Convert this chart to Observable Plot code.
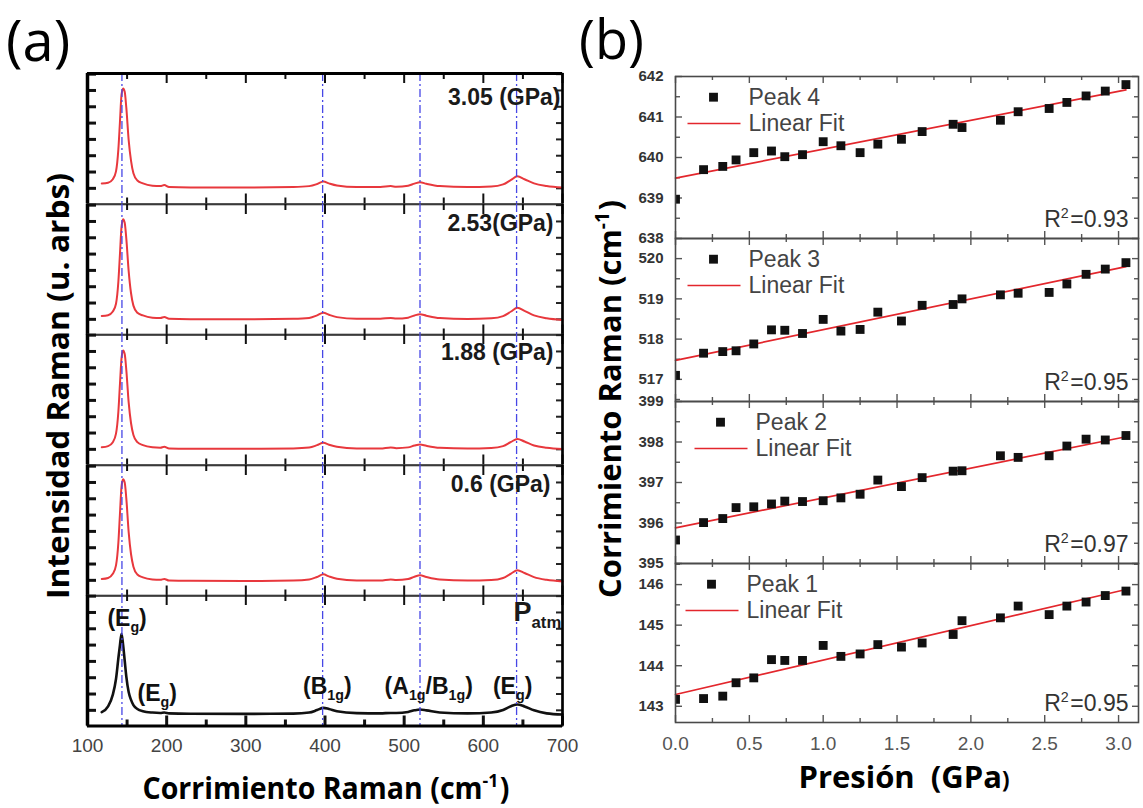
<!DOCTYPE html>
<html><head><meta charset="utf-8">
<script src="https://cdn.jsdelivr.net/npm/d3@7"></script>
<script src="https://cdn.jsdelivr.net/npm/@observablehq/plot@0.6"></script>
<style>
html,body{margin:0;padding:0;background:#fff;}
#root{position:relative;width:1143px;height:808px;overflow:hidden;background:#fff;}
</style></head>
<body><div id="root"></div>
<script>
// ---------- DATA: panel (a) Raman spectra (normalized intensity per sub-panel) ----------
const ramanShift = [118,126,132,136,139,141,143,145,147,149,152,155,158,163,170,182,192,197,203,230,300,360,380,390,398,405,415,440,470,483,490,505,513,520,528,545,580,610,625,635,643,652,664,680,700];
const spectrum305 = [.157,.163,.19,.25,.42,.63,.84,.885,.86,.74,.49,.33,.235,.18,.158,.14,.137,.145,.13,.127,.126,.13,.137,.153,.172,.158,.142,.13,.13,.137,.132,.14,.156,.167,.155,.137,.13,.134,.15,.185,.212,.19,.158,.138,.126];
const spectrum253 = [.146,.152,.18,.24,.41,.62,.83,.887,.86,.74,.49,.32,.225,.17,.15,.133,.13,.138,.124,.121,.12,.124,.131,.15,.171,.155,.137,.124,.124,.131,.126,.133,.15,.159,.148,.13,.123,.128,.145,.18,.209,.185,.15,.128,.115];
const spectrum188 = [.136,.145,.175,.24,.41,.62,.82,.877,.85,.73,.48,.32,.23,.175,.152,.136,.133,.14,.127,.125,.124,.127,.134,.152,.17,.155,.139,.127,.127,.135,.129,.135,.149,.157,.147,.132,.126,.13,.145,.177,.2,.18,.15,.132,.122];
const spectrum060 = [.13,.138,.17,.235,.41,.63,.84,.894,.87,.75,.49,.32,.225,.165,.143,.127,.124,.131,.118,.116,.115,.118,.126,.146,.166,.15,.132,.119,.119,.127,.122,.13,.148,.159,.146,.126,.118,.122,.138,.172,.197,.176,.145,.124,.112];
const spectrumAtm = [.106,.15,.24,.36,.52,.62,.707,.62,.50,.38,.26,.2,.16,.13,.113,.103,.1,.104,.097,.094,.093,.095,.103,.122,.139,.13,.113,.099,.097,.1,.1,.108,.12,.126,.12,.104,.097,.104,.123,.152,.165,.15,.12,.097,.088];
const spectraA = [spectrum305, spectrum253, spectrum188, spectrum060, spectrumAtm];
const pressureLabelsA = ["3.05 (GPa)", "2.53(GPa)", "1.88 (GPa)", "0.6 (GPa)", "P_{atm}"];
const peakLinePositions = [143.5, 397, 520, 642];
const peakAnnotations = [
  {x: 150, y: 0.824, label: "(E_{g})"},
  {x: 188, y: 0.249, label: "(E_{g})"},
  {x: 403, y: 0.303, label: "(B_{1g})"},
  {x: 531, y: 0.303, label: "(A_{1g}/B_{1g})"},
  {x: 637, y: 0.303, label: "(E_{g})"}
];
const xTicksA = [100,200,300,400,500,600,700];
const xMinorA = [150,250,350,450,550,650];
const yTicksA = [0.12,0.245,0.37,0.495,0.62,0.745,0.87,0.995];

// ---------- DATA: panel (b) peak positions vs pressure ----------
const pressure = [0,0.19,0.32,0.41,0.53,0.65,0.74,0.86,1.0,1.12,1.25,1.37,1.53,1.67,1.88,1.94,2.2,2.32,2.53,2.65,2.78,2.91,3.05];
const peak4 = [638.97,639.70,639.78,639.94,640.12,640.16,640.02,640.07,640.39,640.29,640.12,640.33,640.45,640.64,640.82,640.74,640.92,641.13,641.21,641.36,641.52,641.64,641.80];
const peak3 = [517.10,517.65,517.69,517.71,517.88,518.23,518.22,518.14,518.49,518.20,518.24,518.67,518.45,518.84,518.86,519.00,519.10,519.14,519.16,519.37,519.61,519.74,519.90];
const peak2 = [395.58,396.01,396.11,396.38,396.40,396.47,396.54,396.53,396.55,396.62,396.71,397.06,396.90,397.12,397.28,397.29,397.66,397.62,397.66,397.90,398.07,398.05,398.16];
const peak1 = [143.17,143.19,143.25,143.58,143.70,144.15,144.13,144.13,144.50,144.23,144.29,144.52,144.46,144.56,144.77,145.11,145.18,145.47,145.26,145.47,145.57,145.73,145.84];
const peaksB = [peak4, peak3, peak2, peak1];
const fitStart = [639.49, 517.47, 395.88, 143.29];
const fitEnd = [641.67, 519.80, 398.13, 145.88];
const peakNamesB = ["Peak 4", "Peak 3", "Peak 2", "Peak 1"];
const r2LabelsB = ["R^{2}=0.93", "R^{2}=0.95", "R^{2}=0.97", "R^{2}=0.95"];
const yDomainsB = [[638, 642], [516.45, 520.5], [395, 399], [142.6, 146.52]];
const yMajorB = [[638,639,640,641,642],[517,518,519,520],[395,396,397,398,399],[143,144,145,146]];
const yMinorB = [[638.5,639.5,640.5,641.5],[516.5,517.5,518.5,519.5],[395.5,396.5,397.5,398.5],[143.5,144.5,145.5,146.5]];
const xTicksB = [0,0.5,1,1.5,2,2.5,3];
const xMinorB = [0.25,0.75,1.25,1.75,2.25,2.75];

// ---------- LAYOUT / STYLE ----------
const RED = "#e8383d", FIT_RED = "#e3262c", BLUE = "#4747e6";
const FONT = "'Liberation Sans', Arial, sans-serif";
const root = document.getElementById("root");
const leftA = 87, widthA = 475, topsA = [73, 203.5, 334, 464.5, 595], heightA = 130.5;
const labelLayoutA = [
  {dx: -2, dy: 23.7, anchor: "end", size: 23},
  {dx: -9, dy: 19.5, anchor: "end", size: 23},
  {dx: -9, dy: 18, anchor: "end", size: 23},
  {dx: -12, dy: 18.8, anchor: "end", size: 23},
  {dx: -49, dy: 17, anchor: "start", size: 27}
];
const leftB = 675, widthB = 463, topsB = [76, 238, 401, 563], bottomsB = [238, 401, 563, 722];
const legendShiftB = [0, 0, 7, -2];
const lineSymbol = {draw(ctx) { ctx.moveTo(-26.5, 0); ctx.lineTo(26.5, 0); }};

function place(svg, left, top) {
  svg.style.position = "absolute";
  svg.style.left = left + "px";
  svg.style.top = top + "px";
  root.appendChild(svg);
}

function panelA(i) {
  const W = widthA, H = heightA, last = i === 4;
  const rows = ramanShift.map((x, j) => ({x, v: spectraA[i][j]}));
  const tw = last ? 3 : 2;
  const L = labelLayoutA[i];
  const marks = [
    Plot.frame({stroke: "#3a3a3a", strokeWidth: 1.6}),
    Plot.ruleX(xTicksA, {stroke: "#111", strokeWidth: 2, insetBottom: H - 10}),
    Plot.ruleX(xMinorA, {stroke: "#111", strokeWidth: 2, insetBottom: H - 6}),
    Plot.ruleX(xTicksA, {stroke: "#111", strokeWidth: tw, insetTop: H - 10}),
    Plot.ruleX(xMinorA, {stroke: "#111", strokeWidth: tw, insetTop: H - 6}),
    Plot.ruleY(yTicksA, {stroke: "#111", strokeWidth: 3, insetRight: W - 9}),
    Plot.ruleY(yTicksA, {stroke: "#222", strokeWidth: 2, insetLeft: W - 6}),
    Plot.line(rows, {x: "x", y: "v", stroke: last ? "#111" : RED, strokeWidth: last ? 2.6 : 2, curve: "monotone-x"}),
    Plot.ruleX(peakLinePositions, {stroke: BLUE, strokeWidth: 1.3, strokeDasharray: "8,3,2,3"}),
    Plot.ruleX([100], {stroke: "#000", strokeWidth: 3.5}),
    Plot.ruleX([700], {stroke: "#000", strokeWidth: 2.6}),
    Plot.text([pressureLabelsA[i]], {frameAnchor: "top-right", dx: L.dx, dy: L.dy, textAnchor: L.anchor, lineAnchor: "middle",
      fontSize: L.size, fontWeight: "bold", fill: "#1a1a1a", fontFamily: FONT})
  ];
  if (i === 0) marks.push(Plot.ruleY([1], {stroke: "#000", strokeWidth: 2.8}));
  if (last) {
    marks.push(Plot.ruleY([0], {stroke: "#000", strokeWidth: 3.2}));
    marks.push(Plot.text(peakAnnotations, {x: "x", y: "y", text: "label", fontSize: 23, fontWeight: "bold", fill: "#111", lineAnchor: "middle", fontFamily: FONT}));
    marks.push(Plot.axisX({anchor: "bottom", ticks: xTicksA, tickSize: 0, tickPadding: 12, fontSize: 19, fill: "#444", label: null, fontFamily: FONT}));
  }
  return Plot.plot({
    width: W, height: H, margin: 0,
    x: last ? {domain: [100, 700]} : {domain: [100, 700], axis: null},
    y: {domain: [0, 1], axis: null},
    style: {overflow: "visible", background: "transparent", fontFamily: FONT},
    marks
  });
}

function panelB(i) {
  const W = widthB, H = bottomsB[i] - topsB[i], last = i === 3;
  const rows = pressure.map((p, j) => ({p, v: peaksB[i][j]}));
  const fit = [{p: pressure[0], v: fitStart[i]}, {p: pressure[pressure.length - 1], v: fitEnd[i]}];
  const sh = legendShiftB[i];
  const tc = "#555";
  const marks = [
    Plot.ruleX(xTicksB, {stroke: tc, strokeWidth: 1.4, insetBottom: H - 7}),
    Plot.ruleX(xMinorB, {stroke: tc, strokeWidth: 1.4, insetBottom: H - 4}),
    Plot.ruleX(xTicksB, {stroke: tc, strokeWidth: 1.4, insetTop: H - 7}),
    Plot.ruleX(xMinorB, {stroke: tc, strokeWidth: 1.4, insetTop: H - 4}),
    Plot.ruleY(yMajorB[i], {stroke: tc, strokeWidth: 1.4, insetRight: W - 7}),
    Plot.ruleY(yMinorB[i], {stroke: tc, strokeWidth: 1.4, insetRight: W - 5}),
    Plot.ruleY(yMajorB[i], {stroke: tc, strokeWidth: 1.4, insetLeft: W - 6}),
    Plot.ruleY(yMinorB[i], {stroke: tc, strokeWidth: 1.4, insetLeft: W - 4}),
    Plot.line(fit, {x: "p", y: "v", stroke: FIT_RED, strokeWidth: 1.7}),
    Plot.dot(rows, {x: "p", y: "v", symbol: "square", r: 5, fill: "#111", clip: true}),
    Plot.frame({stroke: "#4a4a4a", strokeWidth: 1.6}),
    Plot.dot([peakNamesB[i]], {frameAnchor: "top-left", dx: 38 + sh, dy: 20.7, symbol: "square", r: 5, fill: "#111"}),
    Plot.text([peakNamesB[i]], {frameAnchor: "top-left", dx: 73 + sh, dy: 20.7, textAnchor: "start", lineAnchor: "middle", fontSize: 23, fill: "#444", fontFamily: FONT}),
    Plot.dot(["Linear Fit"], {frameAnchor: "top-left", dx: 38.5 + sh, dy: 47, symbol: lineSymbol, stroke: FIT_RED, strokeWidth: 1.7, fill: "none"}),
    Plot.text(["Linear Fit"], {frameAnchor: "top-left", dx: 73 + sh, dy: 47, textAnchor: "start", lineAnchor: "middle", fontSize: 23, fill: "#444", fontFamily: FONT}),
    Plot.text([r2LabelsB[i]], {frameAnchor: "bottom-right", dx: -10, dy: -19, textAnchor: "end", lineAnchor: "middle", fontSize: 23, fill: "#333", fontFamily: FONT}),
    Plot.axisY({anchor: "left", ticks: yMajorB[i], tickFormat: d3.format("d"), tickSize: 0, tickPadding: 12, fontSize: 15, fontWeight: "bold", fill: "#333", label: null, fontFamily: FONT})
  ];
  if (last) marks.push(Plot.axisX({anchor: "bottom", ticks: xTicksB, tickFormat: d3.format(".1f"), tickSize: 0, tickPadding: 14, fontSize: 19, fill: "#555", label: null, fontFamily: FONT}));
  return Plot.plot({
    width: W, height: H, margin: 0,
    x: last ? {domain: [0, 3.135]} : {domain: [0, 3.135], axis: null},
    y: {domain: yDomainsB[i]},
    style: {overflow: "visible", background: "transparent", fontFamily: FONT},
    marks
  });
}

for (let i = 0; i < 5; i++) place(panelA(i), leftA, topsA[i]);
for (let i = 0; i < 4; i++) place(panelB(i), leftB, topsB[i]);

// ---------- titles overlay ----------
const ov = d3.select(root).append("svg")
  .attr("width", 1143).attr("height", 808)
  .style("position", "absolute").style("left", "0px").style("top", "0px").style("pointer-events", "none");
const TFONT = "'Open Sans', 'Noto Sans', sans-serif";
ov.append("text").attr("x", 6).attr("y", 61).attr("font-family", TFONT).attr("font-size", 56).text("(a)");
ov.append("text").attr("x", 579).attr("y", 59).attr("font-family", TFONT).attr("font-size", 54).text("(b)");
ov.append("text").attr("x", 326).attr("y", 799).attr("text-anchor", "middle").attr("font-family", TFONT).attr("font-weight", 700)
  .attr("font-size", 30).attr("textLength", 367).attr("lengthAdjust", "spacingAndGlyphs").text("Corrimiento Raman (cm^{-1})");
ov.append("text").attr("transform", "translate(69,386) rotate(-90)").attr("text-anchor", "middle").attr("font-family", TFONT).attr("font-weight", 700)
  .attr("font-size", 31).attr("textLength", 426).attr("lengthAdjust", "spacingAndGlyphs").text("Intensidad Raman (u. arbs)");
ov.append("text").attr("transform", "translate(621,399) rotate(-90)").attr("text-anchor", "middle").attr("font-family", TFONT).attr("font-weight", 700)
  .attr("font-size", 31).attr("textLength", 398).attr("lengthAdjust", "spacingAndGlyphs").text("Corrimiento Raman (cm^{-1})");
ov.append("text").attr("x", 904).attr("y", 788).attr("text-anchor", "middle").attr("font-family", TFONT).attr("font-weight", 700)
  .attr("font-size", 31).style("white-space", "pre").text("Presión  (GPa~{)}");

// ---------- rich text: _{sub}, ^{sup}, ~{small} ----------
function richText(scope) {
  scope.querySelectorAll("text").forEach(t => {
    if (t.querySelector("tspan")) return;
    const s = t.textContent;
    if (!/[_^~]\{/.test(s)) return;
    const fs = parseFloat(getComputedStyle(t).fontSize) || 16;
    t.textContent = "";
    const re = /([_^~])\{([^}]*)\}/g;
    let lastIdx = 0, m, shift = 0, prevKind = null;
    const add = (str, kind) => {
      const ts = document.createElementNS("http://www.w3.org/2000/svg", "tspan");
      ts.textContent = str;
      const target = kind === "_" ? fs * 0.26 : kind === "^" ? -fs * 0.4 : 0;
      const dy = target - shift;
      if (dy) ts.setAttribute("dy", dy);
      if (prevKind === "^") ts.setAttribute("dx", 1.5);
      if (kind === "_" || kind === "^") ts.setAttribute("font-size", fs * 0.62);
      if (kind === "~") ts.setAttribute("font-size", fs * 0.72);
      shift = target;
      prevKind = kind;
      t.appendChild(ts);
    };
    while ((m = re.exec(s))) {
      if (m.index > lastIdx) add(s.slice(lastIdx, m.index), null);
      add(m[2], m[1]);
      lastIdx = re.lastIndex;
    }
    if (lastIdx < s.length) add(s.slice(lastIdx), null);
  });
}
richText(root);
</script>
</body></html>
